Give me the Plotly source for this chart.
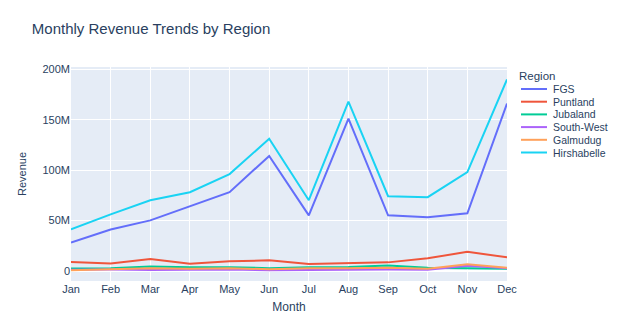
import plotly.graph_objects as go

months = ["Jan", "Feb", "Mar", "Apr", "May", "Jun", "Jul", "Aug", "Sep", "Oct", "Nov", "Dec"]
fgs = [28e6, 41e6, 50e6, 64e6, 78e6, 114e6, 55e6, 151e6, 55e6, 53e6, 57e6, 166e6]
puntland = [8.6e6, 7.3e6, 11.6e6, 7e6, 9.5e6, 10.3e6, 6.6e6, 7.3e6, 8.3e6, 12.3e6, 18.8e6, 13.3e6]
jubaland = [2.3e6, 2.5e6, 4.3e6, 3.5e6, 3.5e6, 2.5e6, 3.5e6, 3.8e6, 5.2e6, 3e6, 2.5e6, 2e6]
south_west = [1e6, 1.2e6, 0.6e6, 1e6, 1.2e6, 0.5e6, 1e6, 1e6, 1.2e6, 1e6, 5e6, 2.5e6]
galmudug = [0.5e6, 1.5e6, 2.5e6, 2e6, 2.5e6, 1.5e6, 2.5e6, 2.5e6, 3e6, 2e6, 6.5e6, 3e6]
hirshabelle = [41e6, 56e6, 70e6, 78e6, 96e6, 131e6, 70e6, 168e6, 74e6, 73e6, 98e6, 190e6]

region_names = ["FGS", "Puntland", "Jubaland", "South-West", "Galmudug", "Hirshabelle"]
region_values = [fgs, puntland, jubaland, south_west, galmudug, hirshabelle]
region_colors = ["#636efa", "#EF553B", "#00cc96", "#ab63fa", "#FFA15A", "#19d3f3"]

W, H = 624, 335
ML, MR, MT, MB = 71, 117, 67, 54
PW, PH = W - ML - MR, H - MT - MB

fig = go.Figure()
for name, vals, col in zip(region_names, region_values, region_colors):
    fig.add_trace(go.Scatter(x=months, y=vals, mode="lines", name=name,
                             line=dict(color=col, width=2)))

# Compact legend (the reference legend is tighter than Plotly's minimum row height)
def px_x(p):
    return (p - ML) / PW

def px_y(p):
    return (H - MB - p) / PH

legend_title_y = 76
row0, row_gap = 89, 12.7
annotations = [dict(text="Region", xref="paper", yref="paper", x=px_x(517), y=px_y(legend_title_y),
                    xanchor="left", yanchor="middle", showarrow=False, font=dict(size=11.5))]
shapes = []
for i, (name, col) in enumerate(zip(region_names, region_colors)):
    yy = px_y(row0 + i * row_gap)
    shapes.append(dict(type="line", xref="paper", yref="paper", x0=px_x(521), x1=px_x(547),
                       y0=yy, y1=yy, line=dict(color=col, width=2)))
    annotations.append(dict(text=name, xref="paper", yref="paper", x=px_x(551), y=yy,
                            xanchor="left", yanchor="middle", showarrow=False,
                            font=dict(size=10.5)))

fig.update_layout(
    template="plotly",
    width=W, height=H,
    font=dict(family="Liberation Sans, Arial, sans-serif", color="#2a3f5f"),
    margin=dict(l=ML, r=MR, t=MT, b=MB),
    showlegend=False,
    annotations=annotations,
    shapes=shapes,
    title=dict(text="Monthly Revenue Trends by Region", x=0.051, y=0.913,
               yanchor="middle", font=dict(size=15)),
    xaxis=dict(title=dict(text="Month", font=dict(size=12), standoff=8),
               tickfont=dict(size=11)),
    yaxis=dict(title=dict(text="Revenue", font=dict(size=11), standoff=13),
               tickfont=dict(size=11),
               range=[-10.2e6, 202.3e6], tickvals=[0, 50e6, 100e6, 150e6, 200e6],
               ticktext=["0", "50M", "100M", "150M", "200M"]),
)

fig.write_html("out.html")
